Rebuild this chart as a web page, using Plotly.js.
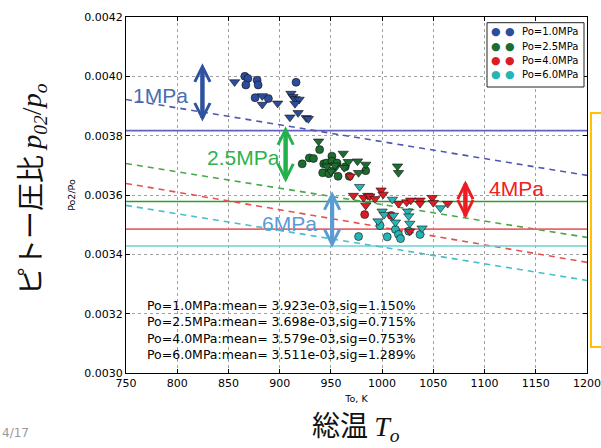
<!DOCTYPE html>
<html>
<head>
<meta charset="utf-8">
<script src="https://cdn.plot.ly/plotly-3.0.1.min.js"></script>
<style>html,body{margin:0;padding:0;background:#fff;}#chart{width:601px;height:448px;}</style>
</head>
<body>
<div id="chart"></div>
<script>
// ---- data ----
const seriesNames = ['Po=1.0MPa', 'Po=2.5MPa', 'Po=4.0MPa', 'Po=6.0MPa'];

const p1CircX = [866, 869, 867, 878, 879, 876, 889, 916];
const p1CircY = [0.004000, 0.003993, 0.003971, 0.003987, 0.003971, 0.003928, 0.003925, 0.003980];
const p1TriX = [856, 883, 883, 898, 911, 913, 915, 919, 915, 910, 918, 926, 928];
const p1TriY = [0.003981, 0.003934, 0.003905, 0.003909, 0.003942, 0.003931, 0.003924, 0.003922, 0.003908, 0.003862, 0.003877, 0.003860, 0.003857];

const p25CircX = [939, 922, 929, 933, 943, 946, 951, 951, 942, 948, 957, 956, 964, 968, 984];
const p25CircY = [0.003753, 0.003705, 0.003725, 0.003723, 0.003705, 0.003708, 0.003731, 0.003714, 0.003675, 0.003672, 0.003663, 0.003708, 0.003695, 0.003663, 0.003682];
const p25TriX = [938, 962, 967, 976, 984, 977, 953, 950, 963, 954, 946, 1015, 1016];
const p25TriY = [0.003781, 0.003740, 0.003712, 0.003714, 0.003703, 0.003675, 0.003686, 0.003680, 0.003692, 0.003700, 0.003697, 0.003697, 0.003675];

const p4CircX = [983, 1009];
const p4CircY = [0.003534, 0.003531];
const p4TriX = [969, 972, 982, 986, 988, 993, 999, 1001, 984, 1016, 1024, 1028, 1037, 1037, 1049, 1050, 1064, 1027];
const p4TriY = [0.003663, 0.003598, 0.003591, 0.003598, 0.003596, 0.003587, 0.003616, 0.003602, 0.003565, 0.003571, 0.003576, 0.003582, 0.003582, 0.003571, 0.003591, 0.003574, 0.003571, 0.003478];

const p6CircX = [977, 998, 1005, 1013, 1016, 1018, 1026, 1037];
const p6CircY = [0.003460, 0.003497, 0.003459, 0.003484, 0.003467, 0.003453, 0.003478, 0.003467];
const p6TriX = [978, 1010, 1000, 1002, 996, 1011, 1013, 1025, 1026, 1027, 1039, 1057];
const p6TriY = [0.003628, 0.003585, 0.003545, 0.003534, 0.003512, 0.003531, 0.003508, 0.003545, 0.003529, 0.003504, 0.003488, 0.003556];

const levelY = [0.003817, 0.003578, 0.003485, 0.003428];   // solid horizontal lines
const trendX = [750, 1200];
const trendStartY = [0.003922, 0.003706, 0.003639, 0.003565];
const trendEndY = [0.003666, 0.003457, 0.003373, 0.003312];

const statsLines = [
  'Po=1.0MPa:mean= 3.923e-03,sig=1.150%',
  'Po=2.5MPa:mean= 3.698e-03,sig=0.715%',
  'Po=4.0MPa:mean= 3.579e-03,sig=0.753%',
  'Po=6.0MPa:mean= 3.511e-03,sig=1.289%'
];

// double-headed arrows: x, top y, bottom y
const arrowX = [824.6, 905.8, 951.2, 1081.3];
const arrowTop = [0.004044, 0.003832, 0.003613, 0.003649];
const arrowBottom = [0.003844, 0.003639, 0.003419, 0.003517];
const arrowLabels = ['1MPa', '2.5MPa', '6MPa', '4MPa'];

// ---- styles ----
const markerColors = ['#2c4c9c', '#1c6e30', '#dc1c24', '#28b4b4'];
const levelColors = ['#6262c0', '#2e9e2e', '#ee6464', '#6ad2d2'];
const trendColors = ['#5058b0', '#4aa84a', '#e85050', '#44c0c8'];
const arrowColors = ['#2f52a0', '#22b14c', '#5b9bd5', '#ed1c24'];
const arrowLabelColors = ['#4a6cb3', '#2db24e', '#5b9bd5', '#ee2222'];
const arrowLabelPix = [[160.5, 95], [243, 157], [289, 223], [516, 188]];

const circX = [p1CircX, p25CircX, p4CircX, p6CircX];
const circY = [p1CircY, p25CircY, p4CircY, p6CircY];
const triX = [p1TriX, p25TriX, p4TriX, p6TriX];
const triY = [p1TriY, p25TriY, p4TriY, p6TriY];

const traces = [];
for (let i = 0; i < 4; i++) {
  traces.push({x: trendX, y: [levelY[i], levelY[i]], mode: 'lines', hoverinfo: 'skip',
    line: {color: levelColors[i], width: 1.6}});
  traces.push({x: trendX, y: [trendStartY[i], trendEndY[i]], mode: 'lines', hoverinfo: 'skip',
    line: {color: trendColors[i], width: 1.6, dash: '6px,5px'}});
}
for (let i = 0; i < 4; i++) {
  traces.push({x: circX[i], y: circY[i], mode: 'markers', name: seriesNames[i],
    marker: {symbol: 'circle', size: 8, color: markerColors[i], line: {color: '#111', width: 0.6}}});
}
for (let i = 0; i < 4; i++) {
  traces.push({x: triX[i], y: triY[i], mode: 'markers', name: seriesNames[i],
    marker: {symbol: 'triangle-down', size: 9, color: markerColors[i], line: {color: '#111', width: 0.6}}});
}
// arrow shafts
for (let i = 0; i < 4; i++) {
  const d = (arrowTop[i] - arrowBottom[i]) * 0.08;
  traces.push({x: [arrowX[i], arrowX[i]], y: [arrowTop[i] - d, arrowBottom[i] + d], mode: 'lines',
    hoverinfo: 'skip', line: {color: arrowColors[i], width: 4}});
}

// pixel helpers for paper coordinates (plot area 126..587, 17..373)
const px = v => (v - 126) / 461;
const py = v => (373 - v) / 356;

const annotations = [
  {x: px(145), y: py(330), xref: 'paper', yref: 'paper', xanchor: 'left', yanchor: 'middle', align: 'left',
    showarrow: false, text: statsLines.join('<br>'),
    font: {family: 'DejaVu Sans', size: 12.5, color: '#000'}},
  {x: px(30), y: py(189), xref: 'paper', yref: 'paper', xanchor: 'center', yanchor: 'middle', textangle: -90,
    showarrow: false,
    text: 'ピトー圧比 <span style="font-family:Liberation Serif"><i>p</i><sub><i>02</i></sub>/<i>p</i><sub><i>o</i></sub></span>',
    font: {family: 'Noto Sans CJK JP', size: 28, color: '#111'}},
  {x: px(356), y: py(425), xref: 'paper', yref: 'paper', xanchor: 'center', yanchor: 'middle',
    showarrow: false,
    text: '総温 <span style="font-family:Liberation Serif"><i>T</i><sub><i>o</i></sub></span>',
    font: {family: 'Noto Sans CJK JP', size: 28, color: '#111'}},
  {x: px(0), y: py(433), xref: 'paper', yref: 'paper', xanchor: 'left', yanchor: 'middle',
    showarrow: false, text: '4/17', font: {family: 'DejaVu Sans', size: 12, color: '#999'}}
];
for (let i = 0; i < 4; i++) {
  // arrow heads
  annotations.push({x: arrowX[i], y: arrowTop[i], ax: arrowX[i], ay: arrowBottom[i],
    xref: 'x', yref: 'y', axref: 'x', ayref: 'y',
    text: ' ', font: {size: 1}, width: 1, height: 1, borderpad: 0,
    showarrow: true, arrowside: 'end+start', arrowhead: 5, startarrowhead: 5,
    arrowsize: 0.75, startarrowsize: 0.75, arrowwidth: 4, arrowcolor: arrowColors[i], standoff: 0, startstandoff: 0});
  annotations.push({x: px(arrowLabelPix[i][0]), y: py(arrowLabelPix[i][1]), xref: 'paper', yref: 'paper',
    text: arrowLabels[i], showarrow: false, xanchor: 'center', yanchor: 'middle',
    font: {family: 'Liberation Sans, Arial, sans-serif', size: 21, color: arrowLabelColors[i]}});
}

// legend drawn in matplotlib style (two markers per entry)
const legendRowsY = [31.5, 46, 60.5, 75];
for (let i = 0; i < 4; i++) {
  annotations.push({x: px(503), y: py(legendRowsY[i]), xref: 'paper', yref: 'paper', xanchor: 'center', yanchor: 'middle',
    showarrow: false, text: '●\u2009\u2009●', font: {family: 'DejaVu Sans', size: 11, color: markerColors[i]}});
  annotations.push({x: px(520), y: py(legendRowsY[i]), xref: 'paper', yref: 'paper', xanchor: 'left', yanchor: 'middle',
    showarrow: false, text: seriesNames[i], font: {family: 'DejaVu Sans', size: 10, color: '#000'}});
}

const shapes = [
  {type: 'rect', xref: 'paper', yref: 'paper', x0: px(591), x1: px(640), y0: py(347), y1: py(113),
    line: {color: '#ffc000', width: 2}, fillcolor: 'rgba(0,0,0,0)', layer: 'above'},
  {type: 'rect', xref: 'paper', yref: 'paper', x0: px(487), x1: px(584), y0: py(87), y1: py(22.7),
    line: {color: '#222', width: 1}, fillcolor: '#fff', layer: 'above'}
];

const axisCommon = {
  showline: true, linecolor: '#000', linewidth: 1, mirror: 'ticks',
  ticks: 'inside', ticklen: 4, tickcolor: '#000',
  showgrid: true, gridcolor: '#a0a0a0', griddash: 'dot', gridwidth: 1, zeroline: false,
  tickfont: {family: 'DejaVu Sans', size: 11, color: '#000'}
};

const layout = {
  width: 601, height: 448,
  margin: {l: 126, r: 14, t: 17, b: 75},
  paper_bgcolor: '#fff', plot_bgcolor: '#fff',
  xaxis: Object.assign({}, axisCommon, {range: [750, 1200], dtick: 50, tick0: 750,
    title: {text: 'To, K', font: {family: 'DejaVu Sans', size: 9.5, color: '#000'}, standoff: 6}}),
  yaxis: Object.assign({}, axisCommon, {range: [0.0030, 0.0042], dtick: 0.0002, tick0: 0.0030, tickformat: '.4f',
    title: {text: 'Po2/Po', font: {family: 'DejaVu Sans', size: 9.5, color: '#000'}, standoff: 6}}),
  showlegend: false,
  annotations: annotations,
  shapes: shapes
};

Plotly.newPlot('chart', traces, layout, {displayModeBar: false, staticPlot: true});
</script>
</body>
</html>
